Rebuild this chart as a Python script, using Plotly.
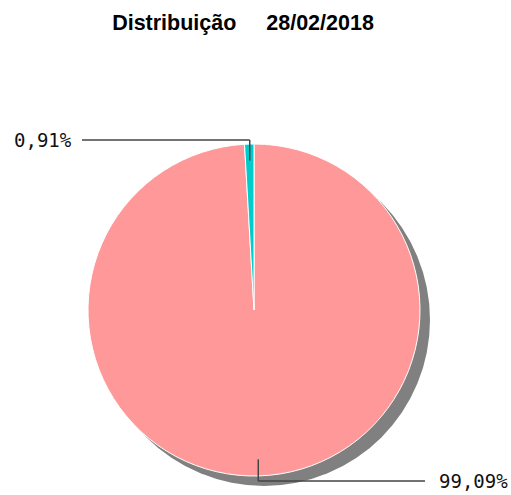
import math
import plotly.graph_objects as go

# Data
categories = ["B", "A"]
values = [99.09, 0.91]
labels_text = ["99,09%", "0,91%"]
colors = ["#FF9999", "#00CCCC"]
title_text = "Distribuição\u00a0\u00a0\u00a0\u00a0\u00a028/02/2018"

W, H = 511, 495
cx, cy, r = 254, 310, 166
shadow_off = 10


def px(x):
    return x / W


def py(y):
    return 1 - y / H


fig = go.Figure()
fig.add_trace(go.Pie(
    labels=categories,
    values=values,
    sort=False,
    direction="clockwise",
    rotation=0,
    marker=dict(colors=colors, line=dict(color="white", width=1)),
    textinfo="none",
    hoverinfo="label+percent",
    showlegend=False,
    domain=dict(x=[px(cx - r), px(cx + r)], y=[py(cy + r), py(cy - r)]),
))

shapes = [dict(
    type="circle", xref="paper", yref="paper", layer="below",
    x0=px(cx - r + shadow_off), x1=px(cx + r + shadow_off),
    y0=py(cy + r + shadow_off), y1=py(cy - r + shadow_off),
    fillcolor="#808080", line=dict(width=0),
)]
annotations = []

total = sum(values)
cum = 0.0
label_x_end = [425, 82]
for i, v in enumerate(values):
    mid = (cum + v / 2) / total * 2 * math.pi  # clockwise from top
    cum += v
    sx = cx + 0.9 * r * math.sin(mid)
    sy = cy - 0.9 * r * math.cos(mid)
    up = math.cos(mid) > 0
    ey = cy - (r + 4) if up else cy + (r + 5)
    ex = label_x_end[i]
    shapes.append(dict(type="line", xref="paper", yref="paper",
                       x0=px(sx), y0=py(sy), x1=px(sx), y1=py(ey),
                       line=dict(color="#444444", width=1.5)))
    shapes.append(dict(type="line", xref="paper", yref="paper",
                       x0=px(sx), y0=py(ey), x1=px(ex), y1=py(ey),
                       line=dict(color="#444444", width=1.5)))
    left = ex < sx
    annotations.append(dict(
        x=px(ex - 8) if left else px(ex + 12), y=py(ey),
        xref="paper", yref="paper",
        xanchor="right" if left else "left", yanchor="middle",
        text=labels_text[i], showarrow=False,
        font=dict(family="DejaVu Sans Mono", size=19, color="#111111"),
    ))

fig.update_layout(
    width=W, height=H,
    margin=dict(l=0, r=0, t=0, b=0),
    paper_bgcolor="white", plot_bgcolor="white",
    title=dict(text=title_text, x=243 / W, xanchor="center",
               y=1 - 22 / H, yanchor="middle",
               font=dict(family="Liberation Sans", size=21.5, color="black")),
    shapes=shapes,
    annotations=annotations,
)
fig.update_layout(title_font_weight="bold")

fig.write_html("out.html")
